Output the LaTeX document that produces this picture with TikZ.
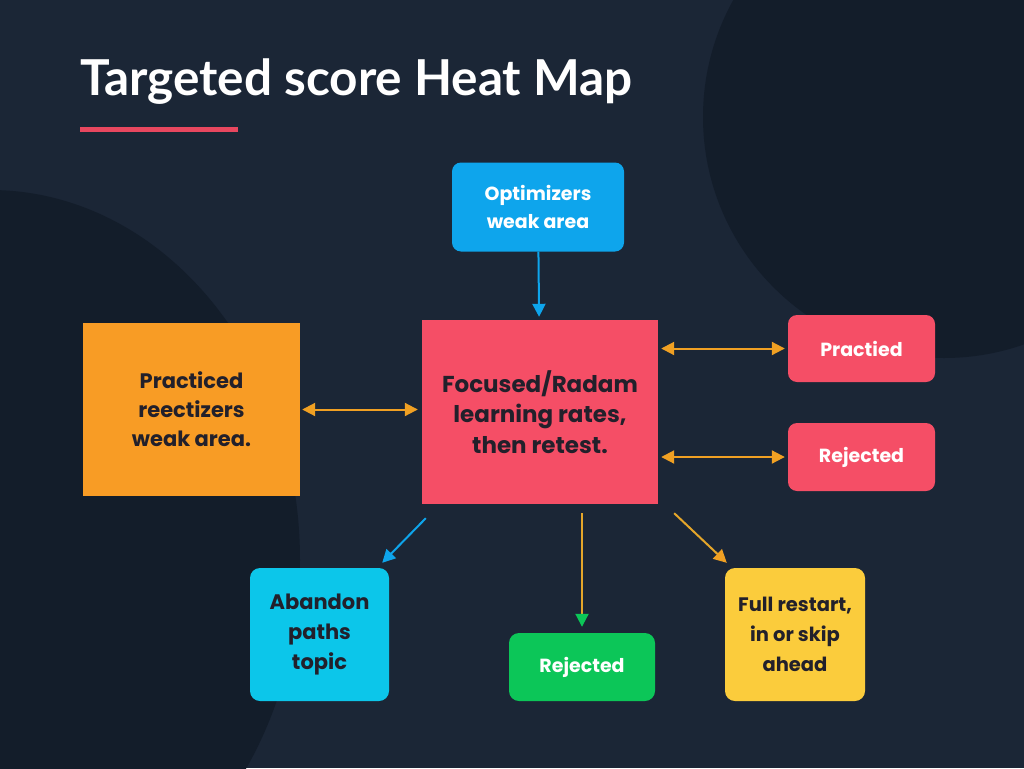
\documentclass[tikz,border=0pt]{standalone}
\usepackage{fontspec}
\setmainfont{Lato}
\newfontfamily\boxfont{Poppins}
\usetikzlibrary{arrows.meta}

\definecolor{bgdark}{HTML}{1B2636}
\definecolor{bgdeep}{HTML}{131D2A}
\definecolor{accred}{HTML}{E8475F}
\definecolor{boxblue}{HTML}{0EA5EC}
\definecolor{boxred}{HTML}{F54E66}
\definecolor{boxorange}{HTML}{F89C25}
\definecolor{boxcyan}{HTML}{0CC6EA}
\definecolor{boxgreen}{HTML}{0CC658}
\definecolor{boxyellow}{HTML}{FBCC3C}
\definecolor{inkdark}{HTML}{22202B}
\definecolor{linkorange}{HTML}{F0A023}
\definecolor{linkgold}{HTML}{E5A62A}

\begin{document}
\begin{tikzpicture}[x=1pt,y=-1pt]
  \tikzset{>={Triangle[length=13pt,width=13pt]}}
  \tikzset{
    box/.style n args={2}{minimum width=#1pt, minimum height=#2pt,
      inner sep=0pt, align=center},
    darktext/.style={text=inkdark},
    lighttext/.style={text=white},
    bluelink/.style={boxblue, line width=2pt},
    orangelink/.style={linkorange, line width=2pt},
  }

  % background
  \useasboundingbox (0,0) rectangle (1024,768);
  \fill[bgdark] (0,0) rectangle (1024,768);
  \begin{scope}
    \clip (0,0) rectangle (1024,768);
    \fill[bgdeep] (944,117) circle (241pt);
    \fill[bgdeep] (-10,560) ellipse [x radius=310pt, y radius=370pt];
  \end{scope}

  % title
  \node[anchor=base west, inner sep=0pt, text=white,
        font=\bfseries\fontsize{49.5}{60}\selectfont] (title) at (80,95) {Targeted score Heat Map};
  \draw[accred, line width=5pt] (80,129) -- (238,129);

  % boxes
  \node[box={172}{89}, rounded corners=9pt, fill=boxblue, lighttext,
        font=\boxfont\bfseries\fontsize{19}{28}\selectfont] (optim) at (538,207) {Optimizers\\weak area};
  \node[box={236}{184}, fill=boxred, darktext,
        font=\boxfont\bfseries\fontsize{23}{30.5}\selectfont] (focus) at (540,412) {Focused/Radam\\learning rates,\\then retest.};
  \node[box={217}{173}, fill=boxorange, darktext,
        font=\boxfont\bfseries\fontsize{21}{29}\selectfont] (orng) at (191.5,409.5) {Practiced\\reectizers\\weak area.};
  \node[box={147}{67}, rounded corners=9pt, fill=boxred, lighttext,
        font=\boxfont\bfseries\fontsize{19}{28}\selectfont] (prac) at (861.5,348.5) {Practied};
  \node[box={147}{68}, rounded corners=9pt, fill=boxred, lighttext,
        font=\boxfont\bfseries\fontsize{19}{28}\selectfont] (rejr) at (861.5,457) {Rejected};
  \node[box={139}{133}, rounded corners=10pt, fill=boxcyan, darktext,
        font=\boxfont\bfseries\fontsize{21}{30}\selectfont] (aband) at (319.5,634.5) {Abandon\\paths\\topic};
  \node[box={146}{68}, rounded corners=10pt, fill=boxgreen, lighttext,
        font=\boxfont\bfseries\fontsize{19}{28}\selectfont] (rejg) at (582,667) {Rejected};
  \node[box={140}{133}, rounded corners=10pt, fill=boxyellow, darktext,
        font=\boxfont\bfseries\fontsize{19.5}{30}\selectfont] (full) at (795,634.5) {Full restart,\\in or skip\\ahead};

  % links
  \draw[bluelink, ->, shorten >=3pt] (optim) -- (focus);
  \draw[orangelink, <->, shorten <=2pt, shorten >=4pt] (orng) -- (orng -| focus.west);
  \draw[orangelink, <->, shorten <=3pt, shorten >=3pt] (prac.west -| focus.east) -- (prac.west);
  \draw[orangelink, <->, shorten <=3pt, shorten >=3pt] (rejr.west -| focus.east) -- (rejr.west);
  \draw[bluelink, ->] ([shift={(4,14)}]focus.south west) -- ([shift={(-7,-5)}]aband.north east);
  \draw[linkgold, line width=2pt, -{Triangle[length=13pt,width=13pt,color=boxgreen]}]
    ([shift={(0,9)}]rejg.north |- focus.south) -- ([shift={(0,-6)}]rejg.north);
  \draw[linkgold, line width=2pt, -{Triangle[length=13pt,width=13pt,color=linkorange]}]
    ([shift={(16,9)}]focus.south east) -- ([shift={(2,-5)}]full.north west);
\end{tikzpicture}
\end{document}
